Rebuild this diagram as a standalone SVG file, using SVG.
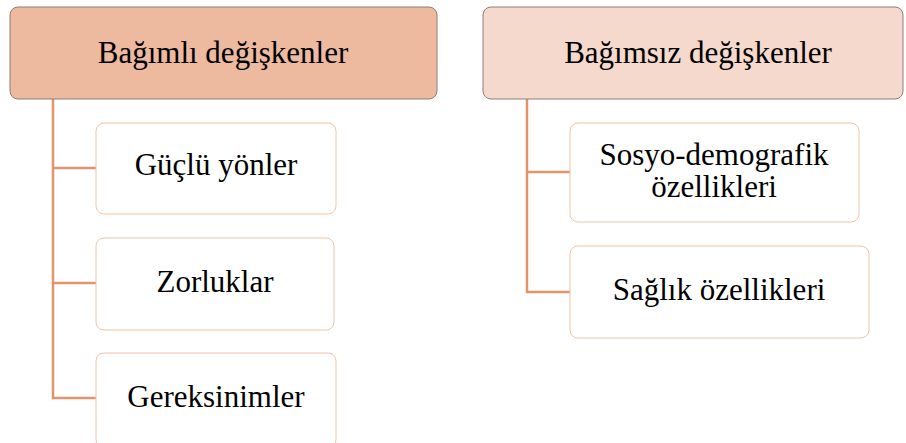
<svg xmlns="http://www.w3.org/2000/svg" width="906" height="443" viewBox="0 0 906 443">
<style>
.hdr{stroke:#8c7f79;stroke-width:1}
.child{fill:#ffffff;stroke:#f3c3a6;stroke-width:1}
.conn{fill:none;stroke:#e2946c;stroke-width:2.5}
</style>
<g id="connectors">
<polyline class="conn" points="53,99 53,398 96,398"/>
<line class="conn" x1="53" y1="168" x2="96" y2="168"/>
<line class="conn" x1="53" y1="283" x2="96" y2="283"/>
<polyline class="conn" points="527,99 527,292 570,292"/>
<line class="conn" x1="527" y1="172" x2="570" y2="172"/>
</g>
<g id="hdr-left"><rect class="hdr" x="10" y="7" width="427" height="92" rx="8" fill="#edb99f"/><text x="223" y="63" font-family="Liberation Serif" font-size="31" text-anchor="middle">Bağımlı değişkenler</text></g>
<g id="hdr-right"><rect class="hdr" x="483" y="7" width="420" height="92" rx="8" fill="#f5d9cd"/><text x="698" y="63" font-family="Liberation Serif" font-size="31" text-anchor="middle">Bağımsız değişkenler</text></g>
<g id="n-guclu"><rect class="child" x="96" y="123" width="240" height="91" rx="8"/><text x="216" y="175" font-family="Liberation Serif" font-size="31" text-anchor="middle">Güçlü yönler</text></g>
<g id="n-zorluklar"><rect class="child" x="96" y="238" width="238" height="92" rx="8"/><text x="215" y="292" font-family="Liberation Serif" font-size="31" text-anchor="middle">Zorluklar</text></g>
<g id="n-gereksinimler"><rect class="child" x="96" y="353" width="240" height="95" rx="8"/><text x="216" y="407" font-family="Liberation Serif" font-size="31" text-anchor="middle">Gereksinimler</text></g>
<g id="n-sosyo"><rect class="child" x="570" y="123" width="289" height="99" rx="8"/><text x="714" y="165" font-family="Liberation Serif" font-size="31" text-anchor="middle">Sosyo-demografik</text><text x="714" y="197" font-family="Liberation Serif" font-size="31" text-anchor="middle">özellikleri</text></g>
<g id="n-saglik"><rect class="child" x="570" y="246" width="299" height="92" rx="8"/><text x="719" y="300" font-family="Liberation Serif" font-size="31" text-anchor="middle">Sağlık özellikleri</text></g>
</svg>
